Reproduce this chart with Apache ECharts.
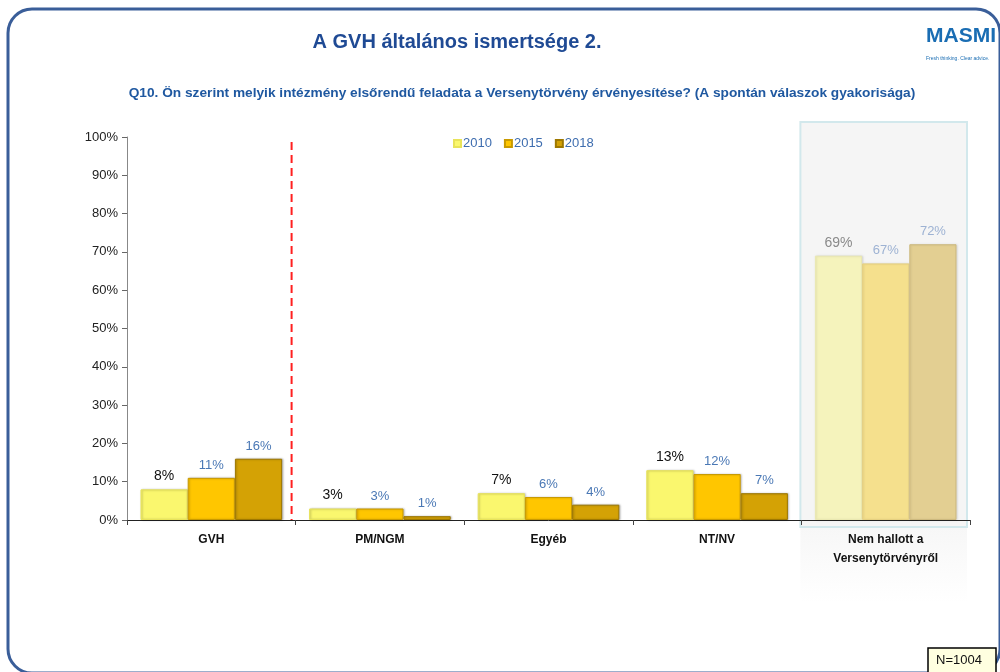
<!DOCTYPE html>
<html><head><meta charset="utf-8">
<script src="https://cdn.jsdelivr.net/npm/echarts@6/dist/echarts.min.js"></script>
<style>html,body{margin:0;padding:0;background:#fff}#c{width:1000px;height:672px}</style>
</head><body><div id="c"></div>
<script>
const categories = ['GVH', 'PM/NGM', 'Egyéb', 'NT/NV', 'Nem hallott a\nVersenytörvényről'];
const years = ['2010', '2015', '2018'];
const v2010 = [8, 3, 7, 13, 69];
const v2015 = [11, 3, 6, 12, 67];
const v2018 = [16, 1, 4, 7, 72];
const yTicks = [0, 10, 20, 30, 40, 50, 60, 70, 80, 90, 100];

const colors = ['#FAF76E', '#FFC600', '#D4A205'];
const borders = ['#E8E35A', '#C99A00', '#9E7800'];
const fadedColors = ['#F5F3BC', '#F5E08D', '#E3CF92'];
const fadedBorders = ['#EAE8B0', '#E6D080', '#CDB97E'];
const labelColors = ['#111', '#4A78B5', '#4A78B5'];
const fadedLabelColors = ['#8A8A8A', '#9DB2D3', '#9DB2D3'];
const FONT = 'Liberation Sans, Arial, sans-serif';

const allVals = [v2010, v2015, v2018];
const series = years.map((y, i) => ({
  name: y, type: 'bar', barGap: '0%', barCategoryGap: '16%',
  itemStyle: { color: colors[i], borderColor: borders[i], borderWidth: 1,
    shadowColor: 'rgba(0,0,0,0.25)', shadowBlur: 2, shadowOffsetX: 1, shadowOffsetY: 0 },
  label: { show: true, position: 'top', distance: 6, formatter: '{c}%', color: labelColors[i], fontSize: i === 0 ? 14 : 13, fontFamily: FONT },
  data: allVals[i].map((v, k) => k === categories.length - 1 ? {
    value: v,
    itemStyle: { color: fadedColors[i], borderColor: fadedBorders[i], shadowColor: 'rgba(0,0,0,0.1)' },
    label: { color: fadedLabelColors[i] }
  } : v),
  z: 5
}));

const chart = echarts.init(document.getElementById('c'));
chart.setOption({
  animation: false,
  textStyle: { fontFamily: FONT },
  title: [
    { text: 'A GVH általános ismertsége 2.', left: 452, top: 27, textAlign: 'center',
      textStyle: { fontSize: 20, fontWeight: 'bold', color: '#1F4A94', fontFamily: FONT } },
    { text: 'Q10. Ön szerint melyik intézmény elsőrendű feladata a Versenytörvény érvényesítése? (A spontán válaszok gyakorisága)',
      left: 517, top: 81, textAlign: 'center',
      textStyle: { fontSize: 13.7, fontWeight: 'bold', color: '#1F58A0', fontFamily: FONT } }
  ],
  legend: {
    data: years, left: 448, top: 132, itemWidth: 7, itemHeight: 7, itemGap: 12,
    icon: 'rect', textStyle: { color: '#3E6DAF', fontSize: 13, fontFamily: FONT, padding: [0, 0, 0, -3] }
  },
  grid: { left: 127, right: 30, top: 137, bottom: 152, containLabel: false },
  xAxis: {
    type: 'category', data: categories,
    axisLine: { lineStyle: { color: '#222', width: 1 } },
    axisTick: { show: true, alignWithLabel: false, length: 5, lineStyle: { color: '#444' } },
    axisLabel: { color: '#111', fontSize: 12, fontWeight: 'bold', margin: 10, lineHeight: 19, fontFamily: FONT }
  },
  yAxis: {
    type: 'value', min: 0, max: 100, interval: 10,
    axisLine: { show: true, lineStyle: { color: '#888' } },
    axisTick: { show: true, length: 5, lineStyle: { color: '#666' } },
    splitLine: { show: false },
    axisLabel: { color: '#222', fontSize: 13, margin: 9, fontFamily: FONT,
      formatter: v => yTicks.includes(v) ? v + '%' : '' }
  },
  series: series
});

// decorations computed from the axes
const last = categories[categories.length - 1];
const cLast = chart.convertToPixel({ xAxisIndex: 0 }, last);
const cFirst = chart.convertToPixel({ xAxisIndex: 0 }, categories[0]);
const cSecond = chart.convertToPixel({ xAxisIndex: 0 }, categories[1]);
const band = cSecond - cFirst;
const y0 = chart.convertToPixel({ yAxisIndex: 0 }, 0);
const y100 = chart.convertToPixel({ yAxisIndex: 0 }, 100);
const boxL = cLast - band / 2 - 1, boxR = cLast + band / 2 - 3;
const sepX = cFirst + band / 2 - 4;

chart.setOption({
  graphic: [
    { type: 'rect', z: -10, shape: { x: 8, y: 9, width: 992, height: 664, r: 24 },
      style: { fill: 'none', stroke: '#3A5E99', lineWidth: 3 } },
    { type: 'rect', z: -5, shape: { x: boxL, y: y100 - 15, width: boxR - boxL, height: y0 - y100 + 22 },
      style: { fill: '#F5F5F5', stroke: '#D2E8EC', lineWidth: 2 } },
    { type: 'rect', z: -5, shape: { x: boxL, y: y0 + 8, width: boxR - boxL, height: 75 },
      style: { fill: new echarts.graphic.LinearGradient(0, 0, 0, 1, [{ offset: 0, color: '#F7F7F7' }, { offset: 1, color: '#FFFFFF' }]) } },
    { type: 'line', z: 10, shape: { x1: sepX, y1: y100 + 5, x2: sepX, y2: y0 },
      style: { stroke: '#FF2020', lineWidth: 2, lineDash: [8, 5] } },
    { type: 'text', z: 10, left: 926, top: 26,
      style: { text: 'MASMI', font: 'bold 21px ' + FONT, fill: '#1A6DB3' } },
    { type: 'text', z: 10, left: 926, top: 56,
      style: { text: 'Fresh thinking. Clear advice.', font: '5px ' + FONT, fill: '#1A6DB3' } },
    { type: 'rect', z: 10, shape: { x: 928, y: 648, width: 68, height: 26 },
      style: { fill: '#FFFFE0', stroke: '#000', lineWidth: 1.5 } },
    { type: 'text', z: 11, left: 936, top: 654,
      style: { text: 'N=1004', font: '13px ' + FONT, fill: '#111' } }
  ]
});
</script></body></html>
